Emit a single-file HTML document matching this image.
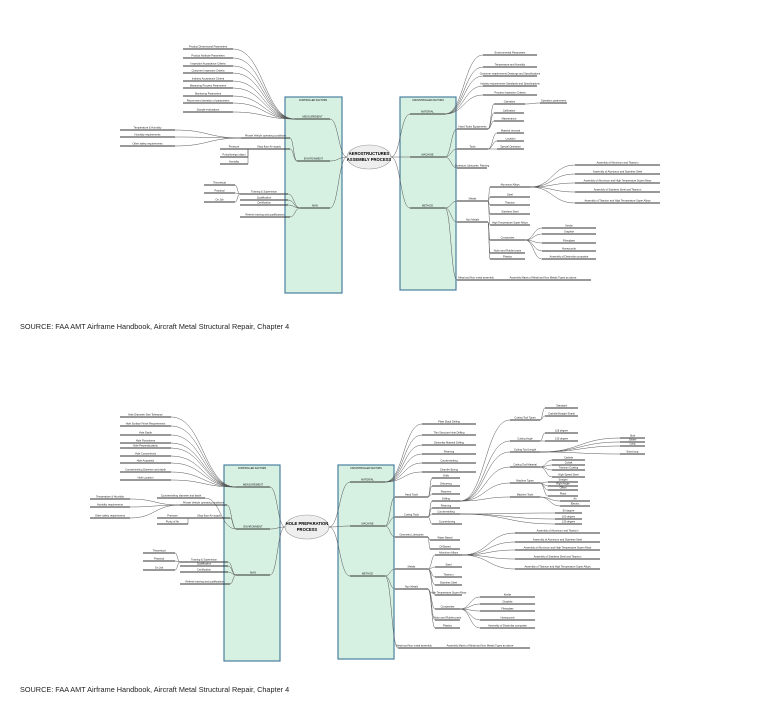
<!DOCTYPE html>
<html><head><meta charset="utf-8"><style>
html,body{margin:0;padding:0;background:#fff;width:768px;height:722px;overflow:hidden}
svg{display:block}
.src{position:absolute;left:20px;font:7.3px "Liberation Sans",sans-serif;color:#222}
</style></head><body>
<svg id="s" width="768" height="722" xmlns="http://www.w3.org/2000/svg" font-family="Liberation Sans, sans-serif">
<rect x="285" y="97" width="57" height="196" fill="#d6f0e2" stroke="#4a7fa0" stroke-width="1.2"/>
<rect x="400" y="97" width="56" height="193" fill="#d6f0e2" stroke="#4a7fa0" stroke-width="1.2"/>
<rect x="224" y="465" width="56" height="196" fill="#d6f0e2" stroke="#4a7fa0" stroke-width="1.2"/>
<rect x="338" y="465" width="56" height="194" fill="#d6f0e2" stroke="#4a7fa0" stroke-width="1.2"/>
<g id="g"></g>
<ellipse cx="369" cy="157" rx="22" ry="12" fill="#eee" stroke="#999" stroke-width="0.6"/>
<text x="369" y="155" font-size="4.2" font-weight="bold" text-anchor="middle">AEROSTRUCTURES</text>
<text x="369" y="161" font-size="4.2" font-weight="bold" text-anchor="middle">ASSEMBLY PROCESS</text>
<ellipse cx="307" cy="527" rx="22" ry="12" fill="#eee" stroke="#999" stroke-width="0.6"/>
<text x="307" y="525" font-size="4.2" font-weight="bold" text-anchor="middle">HOLE PREPARATION</text>
<text x="307" y="531" font-size="4.2" font-weight="bold" text-anchor="middle">PROCESS</text>
<text x="313" y="101" font-size="2.4" text-anchor="middle">CONTROLLED FACTORS</text>
<text x="428" y="101" font-size="2.4" text-anchor="middle">UNCONTROLLED FACTORS</text>
<text x="252" y="469" font-size="2.4" text-anchor="middle">CONTROLLED FACTORS</text>
<text x="366" y="469" font-size="2.4" text-anchor="middle">UNCONTROLLED FACTORS</text>
</svg>
<div class="src" style="top:322px">SOURCE: FAA AMT Airframe Handbook, Aircraft Metal Structural Repair, Chapter 4</div>
<div class="src" style="top:685px">SOURCE: FAA AMT Airframe Handbook, Aircraft Metal Structural Repair, Chapter 4</div>
<script>
var g=document.getElementById('g'),NS='http://www.w3.org/2000/svg',out='';
function ln(x1,x2,y,t){out+='<line x1="'+x1+'" y1="'+y+'" x2="'+x2+'" y2="'+y+'" stroke="#333" stroke-width="1.1"/>';
 if(t)out+='<text x="'+((x1+x2)/2)+'" y="'+(y-1.3)+'" font-size="2.6" text-anchor="middle" fill="#222">'+t+'</text>';}
function cv(ax,ay,bx,by){var m=(ax+bx)/2;out+='<path d="M'+ax+' '+ay+'C'+m+' '+ay+' '+m+' '+by+' '+bx+' '+by+'" fill="none" stroke="#555" stroke-width="0.5"/>';}
// node: [x1,x2,y,label,side,children]; side 'r' children to right, 'l' to left
function node(n,px,py,side){ln(n[0],n[1],n[2],n[3]);
 if(px!=null){ if(side=='r')cv(px,py,n[0],n[2]); else cv(px,py,n[1],n[2]); }
 var kids=n[4]||[];
 for(var i=0;i<kids.length;i++){var k=kids[i];
  if(k.l) node(k.n,n[0],n[2],'l'); else node(k.n,n[1],n[2],'r');}
}
function R(x1,x2,y,t,c){return {n:[x1,x2,y,t,c]};}
function Lf(x1,x2,y,t,c){return {l:1,n:[x1,x2,y,t,c]};}
function grp(arr,x1,x2,ys,l){ys.forEach(function(y,i){arr.push((l?Lf:R)(x1,x2,y,'Item '+(i+1)));});return arr;}
// TOP LEFT
var m1=[];['Product Dimensional Parameters','Product Attribute Parameters','Inspection Acceptance Criteria','Customer Inspection Criteria','Industry Acceptance Criteria','Measuring Process Parameters','Monitoring Parameters','Recommend deviation of parameters','Sample evaluations'].forEach(function(t,i){m1.push(Lf(183,233,[49,58,66,73,81,88,96,103,112][i],t));});
var tops=[
 [295,330,119,'MEASUREMENT',m1],
 [297,330,161,'ENVIRONMENT',[Lf(241,290,138,'Private Vehicle operating conditions',[Lf(120,175,130,'Temperature & Humidity'),Lf(120,175,137,'Humidity requirements'),Lf(120,175,146,'Other safety requirements')]),
   Lf(248,290,149,'Shop floor Air supply',[Lf(220,248,149,'Pressure'),Lf(220,248,157,'Purity/foreign object'),Lf(220,248,164,'Humidity')])]],
 [300,330,208,'MAN',[Lf(240,288,194,'Training & Supervision',[Lf(204,235,185,'Theoretical'),Lf(204,235,193,'Practical'),Lf(204,235,202,'On Job')]),Lf(240,288,200,'Qualification'),Lf(240,288,205,'Certification'),Lf(240,290,217,'Refresh training and qualifications')]]
];
tops.forEach(function(n){node(n);cv(347,157,n[1],n[2]);});
// TOP RIGHT
var r1=[];['Environmental Parameters','Temperature and Humidity','Customer requirements Drawings and Specifications','Industry requirements Standards and Specifications','Process Inspection Criteria'].forEach(function(t,i){r1.push(R(483,537,[55,67,76,86,95][i],t));});
var alk=[];['Assembly of Aluminum and Titanium','Assembly of Aluminum and Stainless Steel','Assembly of Aluminum and High Temperature Super Alloys','Assembly of Stainless Steel and Titanium','Assembly of Titanium and High Temperature Super Alloys'].forEach(function(t,i){alk.push(R(575,660,[165,174,183,192,203][i],t));});
var ck=[];['Kevlar','Graphite','Fiberglass','Honeycomb','Assembly of Dissimilar composite'].forEach(function(t,i){ck.push(R(542,596,[228,234,243,251,259][i],t));});
var rtops=[
 [410,445,114,'MATERIAL',r1],
 [410,445,157,'MACHINE',[R(457,488,129,'Hand Tools/ Equipments',[R(494,525,104,'Operation',[R(540,567,103,'Operation parameters')]),R(494,524,113,'Calibration'),R(494,524,121,'Maintenance')]),
   R(457,488,149,'Tools',[R(497,524,133,'Material removal'),R(497,524,141,'Location'),R(497,524,149,'Special Operation')]),R(457,487,168,'Contracts, lubricants, Painting')]],
 [410,445,208,'METHOD',[R(457,488,201,'Metals',[R(490,530,187,'Aluminum Alloys',alk),R(490,530,197,'Steel'),R(490,530,205,'Titanium'),R(490,530,214,'Stainless Steel'),R(490,530,225,'High Temperature Super Alloys')]),
   R(457,488,222,'Non Metals',[R(490,525,240,'Composites',ck),R(490,525,253,'Nylon and Rubber parts'),R(490,525,259,'Plastics')]),
   R(457,495,280,'Metal and Non metal assembly',[R(495,591,280,'Assembly Matrix of Metal and Non Metals Types as above')])]]
];
rtops.forEach(function(n){node(n);cv(391,157,n[0],n[2]);});
// BOTTOM LEFT
var b1=[];['Hole Diameter Size Tolerance','Hole Surface Finish Requirements','Hole Depth','Hole Roundness','Hole Perpendicularity','Hole Concentricity','Hole Angularity','Countersinking Diameter and depth','Hole Location'].forEach(function(t,i){b1.push(Lf(120,171,[417,426,435,443,448,456,463,472,480][i],t));});
var bl=[
 [236,270,487,'MEASUREMENT',b1],
 [236,270,529,'ENVIRONMENT',[Lf(157,205,498,'Countersinking diameter and depth'),Lf(180,227,505,'Private Vehicle operating conditions',[Lf(90,130,499,'Temperature & Humidity'),Lf(90,130,507,'Humidity requirements'),Lf(90,130,518,'Other safety requirements')]),
   Lf(188,230,518,'Shop floor Air supply',[Lf(157,188,518,'Pressure'),Lf(157,188,524,'Purity of Air')])]],
 [236,270,575,'MAN',[Lf(180,228,562,'Training & Supervision',[Lf(143,175,553,'Theoretical'),Lf(143,175,561,'Practical'),Lf(143,175,570,'On Job')]),Lf(180,228,566,'Qualification'),Lf(180,228,572,'Certification'),Lf(180,230,584,'Refresh training and qualifications')]]
];
bl.forEach(function(n){node(n);cv(285,527,n[1],n[2]);});
// BOTTOM RIGHT
var b2=[];['Plate Stack Drilling','Thin Structure Hole Drilling','Dissimilar Material Drilling','Reaming','Countersinking','Chamfer Boring'].forEach(function(t,i){b2.push(R(422,476,[424,435,445,454,463,472][i],t));});
var ctool=[R(510,540,420,'Cutting Tool Types',[R(545,578,408,'Standard'),R(545,578,416,'Carbide/Straight Shank')]),
 R(510,540,441,'Cutting Angle',[R(545,578,433,'118 degree'),R(545,578,441,'135 degree')]),
 R(510,540,452,'Cutting Tool Length',[R(620,645,438,'Stub'),R(620,645,442,'Jobber'),R(620,645,446,'Long'),R(620,645,454,'Extra long')]),
 R(510,540,467,'Cutting Tool Material',[R(552,585,460,'Carbide'),R(552,585,465,'Cobalt'),R(552,585,470,'Titanium Coating'),R(552,585,477,'High Speed Steel')]),
 R(510,540,483,'Machine Types',[R(548,578,482,'Straight'),R(548,578,486,'Right Angle'),R(548,578,490,'Offset'),R(548,578,496,'Pistol')]),
 R(510,540,497,'Machine Tools',[R(560,590,501,'Air'),R(560,590,506,'Electric')])];
var br=[
 [350,385,482,'MATERIAL',b2],
 [350,385,526,'MACHINE',[R(395,428,497,'Hand Tools',[R(432,460,478,'Drills'),R(432,460,486,'Deburring'),R(432,460,494,'Reamers')]),
   R(395,428,517,'Cutting Tools',[R(432,460,501,'Drilling',ctool),R(432,460,508,'Reaming'),R(432,460,514,'Countersinking',[R(555,582,513,'90 degree'),R(555,582,519,'100 degree'),R(555,582,524,'130 degree')]),R(432,462,524,'Counterboring')]),
   R(395,428,537,'Geometry Lubricants',[R(430,460,540,'Water Based'),R(430,460,549,'Oil Based')])]],
 [350,385,576,'METHOD',[R(395,428,569,'Metals',[R(435,462,555,'Aluminum Alloys',alk.map(function(a,i){return R(515,600,[533,542,550,559,569][i],a.n[3]);})),R(435,462,567,'Steel'),R(435,462,577,'Titanium'),R(435,462,585,'Stainless Steel'),R(435,462,595,'High Temperature Super Alloys')]),
   R(395,428,589,'Non Metals',[R(435,460,609,'Composites',ck.map(function(a,i){return R(480,535,[597,604,611,620,628][i],a.n[3]);})),R(435,460,620,'Nylon and Rubber parts'),R(435,460,628,'Plastics')]),
   R(398,430,648,'Metal and Non metal assembly',[R(430,530,648,'Assembly Matrix of Metal and Non Metals Types as above')])]]
];
br.forEach(function(n){node(n);cv(329,527,n[0],n[2]);});
g.innerHTML=out;
</script>
</body></html>
